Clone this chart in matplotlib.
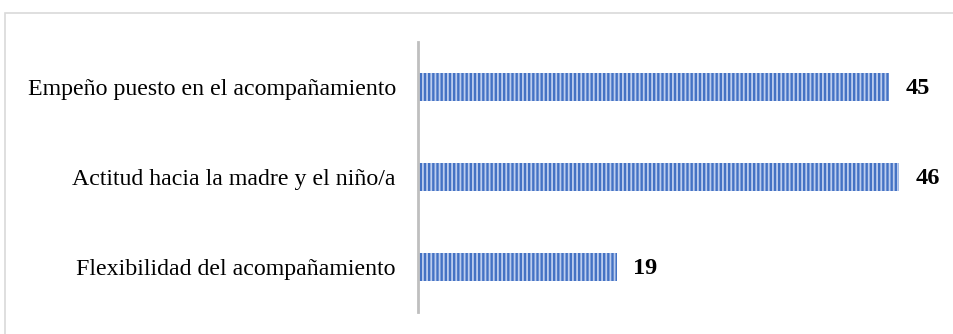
import matplotlib.pyplot as plt
from matplotlib.patches import Rectangle

# data
categories = ["Empeño puesto en el acompañamiento",
              "Actitud hacia la madre y el niño/a",
              "Flexibilidad del acompañamiento"]
values = [45, 46, 19]

plt.rcParams['font.family'] = ['Liberation Serif', 'DejaVu Serif']
plt.rcParams['hatch.linewidth'] = 1.3

W, H = 954, 334
fig = plt.figure(figsize=(W / 100, H / 100), dpi=100)

# outer frame (only left and top visible)
fig.patches.append(Rectangle((5 / W, -0.1), 1.2, (H - 13) / H + 0.1,
                             transform=fig.transFigure, fill=False,
                             edgecolor='#d9d9d9', linewidth=1.2))

ax = fig.add_axes([418 / W, 22 / H, 522 / W, 270 / H])
y = list(range(len(categories)))
ax.barh(y, values, height=0.31, color='#4472c4', edgecolor='#bccdee',
        hatch='||||', linewidth=0)

for yi, v in zip(y, values):
    ax.text(v + 1.6, yi + 0.02, str(v), va='center', ha='left',
            fontsize=17.5, fontweight='bold')

ax.set_xlim(0, 49.9)
ax.set_ylim(2.5, -0.5)
ax.set_yticks(y)
ax.set_yticklabels(categories, fontsize=17.2)
ax.tick_params(axis='y', length=0, pad=16)
ax.set_xticks([])
for s in ['top', 'right', 'bottom']:
    ax.spines[s].set_visible(False)
ax.spines['left'].set_color('#bfbfbf')
ax.spines['left'].set_linewidth(2)

fig.savefig('out.png', dpi=100)
